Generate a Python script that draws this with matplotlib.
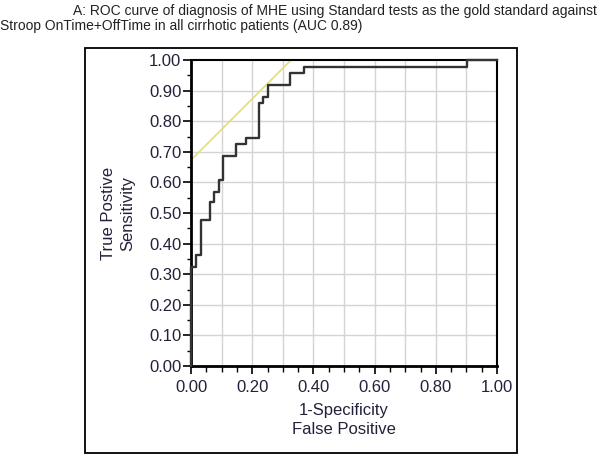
import matplotlib
matplotlib.use("Agg")
import matplotlib.pyplot as plt
from matplotlib.patches import Rectangle
from matplotlib.ticker import MultipleLocator, FormatStrFormatter

plt.rcParams['font.family'] = ['Liberation Sans', 'DejaVu Sans']

# ROC curve corner points (1-specificity, sensitivity)
fpr = [0.0, 0.0, 0.017, 0.032, 0.062, 0.076, 0.092, 0.104, 0.148, 0.180,
       0.222, 0.236, 0.250, 0.324, 0.369, 0.903, 1.0]
tpr = [0.0, 0.325, 0.363, 0.477, 0.537, 0.570, 0.608, 0.686, 0.724, 0.744,
       0.861, 0.878, 0.918, 0.956, 0.978, 1.0, 1.0]
tangent_intercept = 0.673
tangent_slope = 1.0

title_line1 = "A: ROC curve of diagnosis of MHE using Standard tests as the gold standard against"
title_line2 = "Stroop OnTime+OffTime in all cirrhotic patients (AUC 0.89)"
xlabel = "1-Specificity\nFalse Positive"
ylabel = "True Postive\nSensitivity"

W, H = 600, 454
fig = plt.figure(figsize=(W / 100, H / 100), dpi=100)

# outer frame
fig.patches.append(Rectangle((85 / W, 1 - 453 / H), (517 - 85) / W, (453 - 48) / H,
                             transform=fig.transFigure, fill=False,
                             edgecolor='black', linewidth=1.3))

ax = fig.add_axes([191 / W, 1 - 366 / H, (497 - 191) / W, (366 - 60) / H])
ax.set_xlim(0, 1)
ax.set_ylim(0, 1)

ax.xaxis.set_major_locator(MultipleLocator(0.2))
ax.xaxis.set_minor_locator(MultipleLocator(0.05))
ax.yaxis.set_major_locator(MultipleLocator(0.1))
ax.yaxis.set_minor_locator(MultipleLocator(0.05))
ax.xaxis.set_major_formatter(FormatStrFormatter('%.2f'))
ax.yaxis.set_major_formatter(FormatStrFormatter('%.2f'))

for gx in [i / 10 for i in range(1, 10)]:
    ax.axvline(gx, color='#d4d4d4', linewidth=1.0, zorder=0)
    ax.axhline(gx, color='#d4d4d4', linewidth=1.0, zorder=0)

tick_color = '#22223a'
ax.tick_params(axis='both', which='major', direction='out', length=6, width=1.2,
               labelsize=12, labelcolor=tick_color)
ax.tick_params(axis='x', which='major', pad=4)
ax.tick_params(axis='y', which='major', pad=1)
ax.tick_params(axis='x', which='minor', direction='out', length=4, width=1.0)
ax.tick_params(axis='y', which='minor', direction='out', length=3, width=1.0)

for s in ax.spines.values():
    s.set_linewidth(1.5)
    s.set_color('black')
ax.spines['left'].set_linewidth(2)
ax.spines['bottom'].set_linewidth(2)

tx = [0.0, 1.0 - tangent_intercept]
ty = [tangent_intercept + tangent_slope * v for v in tx]
ax.plot(tx, ty, color='#e6df6e', linewidth=1.2, zorder=2)

ax.plot(fpr, tpr, drawstyle='steps-post', color='#333333', linewidth=1.7,
        zorder=3, clip_on=False)

fig.text(597 / W, 1 - 11 / H, title_line1, ha='right', va='center', fontsize=10,
         color='#222222')
fig.text(0 / W, 1 - 26 / H, title_line2, ha='left', va='center', fontsize=10,
         color='#222222')

ax.set_xlabel(xlabel, fontsize=12, color=tick_color, labelpad=6, linespacing=1.3)
ax.set_ylabel(ylabel, fontsize=12, color=tick_color, labelpad=10, linespacing=1.3)

fig.savefig("out.png", dpi=100)
